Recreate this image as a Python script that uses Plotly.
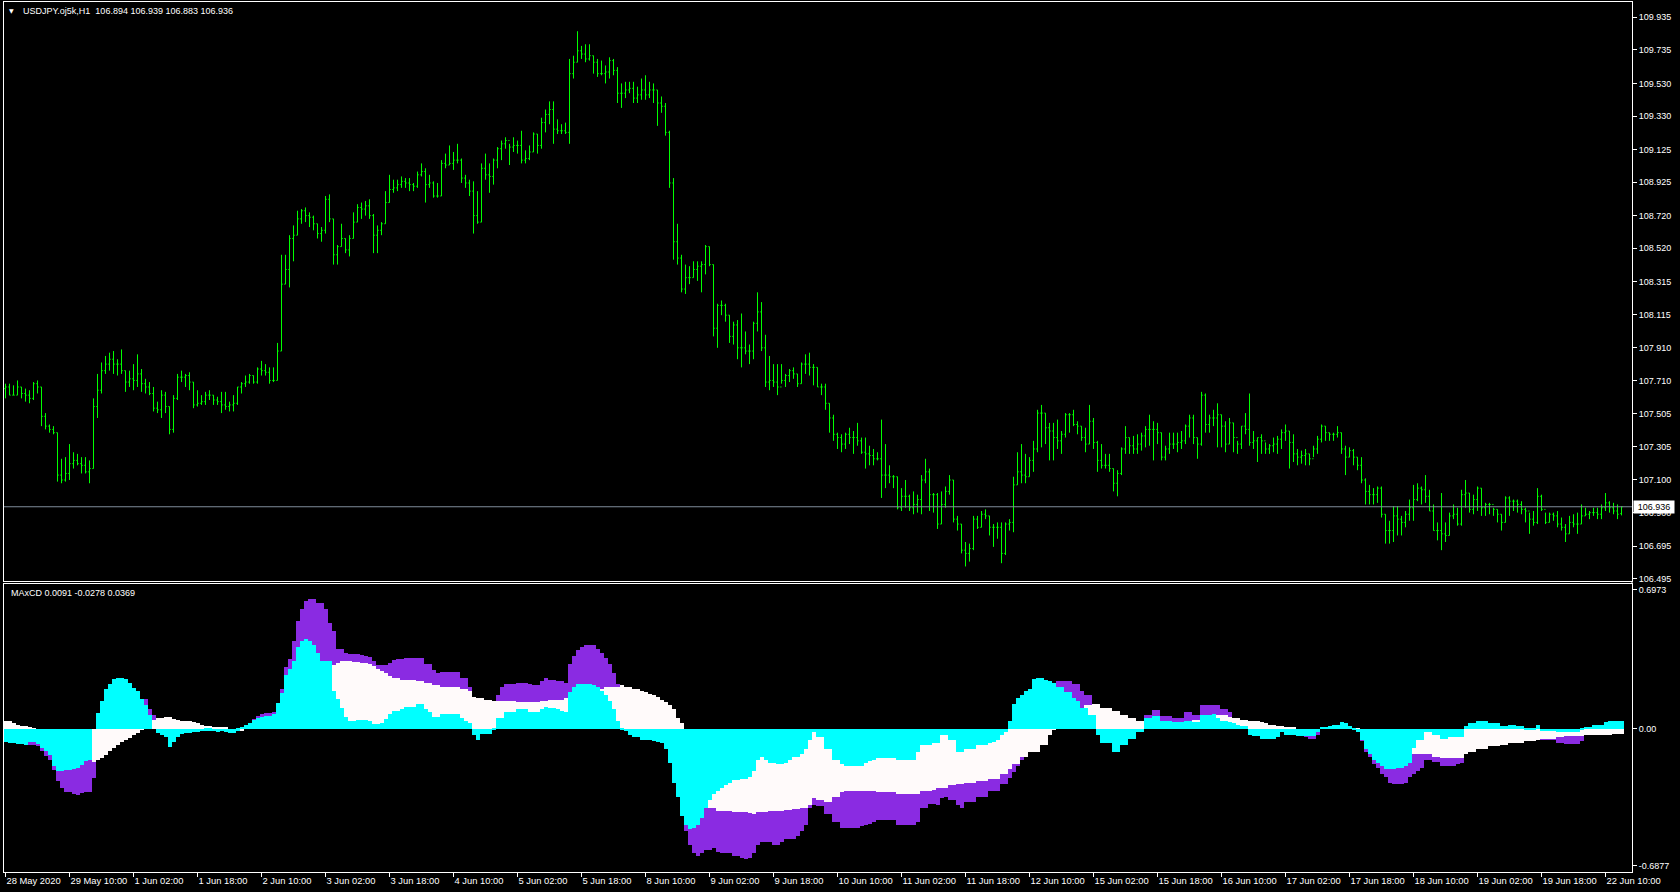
import plotly.graph_objects as go

# ---------------- price data (USDJPY H1, one value per bar) ----------------
OPEN_FIRST = 107.66
LAST_OPEN = 106.894

HIGH = [
    107.69, 107.69, 107.68, 107.71, 107.67, 107.66, 107.65, 107.70, 107.71, 107.67,
    107.51, 107.44, 107.43, 107.39, 107.23, 107.24, 107.32, 107.27, 107.26, 107.24,
    107.24, 107.22, 107.60, 107.75, 107.82, 107.86, 107.88, 107.89, 107.84, 107.90,
    107.77, 107.77, 107.81, 107.87, 107.78, 107.72, 107.70, 107.67, 107.58, 107.65,
    107.64, 107.55, 107.62, 107.75, 107.77, 107.75, 107.76, 107.70, 107.65, 107.62,
    107.64, 107.65, 107.62, 107.61, 107.64, 107.64, 107.58, 107.62, 107.67, 107.70,
    107.74, 107.75, 107.74, 107.79, 107.83, 107.81, 107.79, 107.79, 107.94, 108.48,
    108.48, 108.60, 108.66, 108.75, 108.76, 108.77, 108.74, 108.72, 108.67, 108.65,
    108.84, 108.85, 108.70, 108.54, 108.67, 108.58, 108.60, 108.74, 108.79, 108.80,
    108.81, 108.82, 108.73, 108.66, 108.68, 108.87, 108.97, 108.94, 108.94, 108.96,
    108.95, 108.95, 108.92, 108.99, 109.04, 109.01, 108.97, 108.93, 108.92, 109.06,
    109.10, 109.15, 109.11, 109.16, 109.07, 108.97, 108.94, 108.93, 108.87, 109.04,
    109.10, 109.04, 109.07, 109.14, 109.18, 109.20, 109.16, 109.20, 109.18, 109.24,
    109.12, 109.15, 109.23, 109.22, 109.32, 109.37, 109.42, 109.42, 109.31, 109.28,
    109.29, 109.68, 109.70, 109.85, 109.76, 109.77, 109.77, 109.70, 109.68, 109.67,
    109.64, 109.69, 109.68, 109.63, 109.53, 109.54, 109.54, 109.54, 109.51, 109.56,
    109.58, 109.54, 109.53, 109.49, 109.45, 109.41, 109.24, 108.95, 108.67, 108.48,
    108.42, 108.41, 108.44, 108.44, 108.44, 108.54, 108.53, 108.42, 108.18, 108.20,
    108.18, 108.11, 108.07, 108.08, 108.12, 108.01, 107.93, 108.07, 108.25, 108.19,
    107.99, 107.86, 107.81, 107.81, 107.81, 107.75, 107.78, 107.79, 107.75, 107.82,
    107.87, 107.88, 107.81, 107.79, 107.69, 107.69, 107.57, 107.50, 107.39, 107.38,
    107.39, 107.42, 107.40, 107.45, 107.36, 107.36, 107.31, 107.29, 107.27, 107.47,
    107.32, 107.19, 107.13, 107.12, 107.05, 107.10, 107.01, 107.03, 107.01, 107.13,
    107.23, 107.17, 107.02, 107.02, 107.03, 107.06, 107.13, 107.10, 106.88, 106.83,
    106.72, 106.71, 106.88, 106.88, 106.91, 106.92, 106.88, 106.83, 106.84, 106.84,
    106.84, 106.86, 107.12, 107.27, 107.32, 107.26, 107.24, 107.34, 107.53, 107.56,
    107.51, 107.45, 107.45, 107.47, 107.40, 107.51, 107.51, 107.53, 107.46, 107.43,
    107.42, 107.56, 107.48, 107.34, 107.32, 107.26, 107.26, 107.17, 107.16, 107.30,
    107.43, 107.36, 107.37, 107.38, 107.39, 107.43, 107.50, 107.46, 107.45, 107.39,
    107.31, 107.39, 107.39, 107.39, 107.40, 107.44, 107.50, 107.50, 107.36, 107.64,
    107.63, 107.50, 107.53, 107.57, 107.50, 107.46, 107.48, 107.45, 107.34, 107.43,
    107.51, 107.63, 107.40, 107.36, 107.38, 107.33, 107.32, 107.36, 107.37, 107.41,
    107.44, 107.40, 107.38, 107.29, 107.28, 107.29, 107.26, 107.31, 107.37, 107.44,
    107.43, 107.39, 107.39, 107.43, 107.39, 107.31, 107.30, 107.29, 107.24, 107.24,
    107.11, 107.07, 107.05, 107.06, 107.06, 106.89, 106.85, 106.94, 106.94, 106.88,
    106.91, 106.98, 107.07, 107.08, 107.06, 107.13, 107.04, 106.95, 106.84, 107.02,
    106.84, 106.90, 106.95, 106.93, 107.04, 107.10, 107.02, 107.01, 107.06, 107.05,
    106.96, 106.96, 106.93, 106.92, 106.89, 107.00, 107.00, 106.98, 106.98, 106.97,
    106.93, 106.90, 106.91, 107.05, 107.01, 106.90, 106.90, 106.90, 106.91, 106.87,
    106.83, 106.88, 106.89, 106.90, 106.95, 106.93, 106.91, 106.93, 106.93, 106.95,
    107.02, 106.97, 106.96, 106.95, 106.939,
]

LOW = [
    107.60, 107.62, 107.62, 107.62, 107.60, 107.58, 107.57, 107.59, 107.63, 107.43,
    107.41, 107.39, 107.38, 107.09, 107.08, 107.09, 107.10, 107.17, 107.19, 107.14,
    107.14, 107.08, 107.17, 107.48, 107.63, 107.75, 107.77, 107.75, 107.74, 107.75,
    107.64, 107.67, 107.65, 107.67, 107.64, 107.63, 107.62, 107.52, 107.51, 107.48,
    107.51, 107.38, 107.39, 107.59, 107.70, 107.67, 107.65, 107.54, 107.55, 107.56,
    107.56, 107.59, 107.56, 107.56, 107.51, 107.53, 107.52, 107.52, 107.56, 107.63,
    107.67, 107.69, 107.69, 107.69, 107.74, 107.74, 107.69, 107.70, 107.71, 107.89,
    108.30, 108.28, 108.44, 108.60, 108.67, 108.68, 108.65, 108.63, 108.58, 108.56,
    108.61, 108.68, 108.42, 108.42, 108.53, 108.49, 108.47, 108.58, 108.68, 108.70,
    108.72, 108.70, 108.49, 108.49, 108.60, 108.67, 108.80, 108.86, 108.87, 108.89,
    108.89, 108.87, 108.87, 108.89, 108.96, 108.80, 108.89, 108.83, 108.83, 108.84,
    109.01, 109.03, 109.00, 109.04, 108.92, 108.89, 108.84, 108.61, 108.67, 108.68,
    108.94, 108.86, 108.91, 109.01, 109.06, 109.13, 109.03, 109.11, 109.10, 109.04,
    109.04, 109.06, 109.11, 109.10, 109.13, 109.23, 109.28, 109.16, 109.22, 109.22,
    109.22, 109.16, 109.56, 109.66, 109.68, 109.66, 109.67, 109.59, 109.57, 109.58,
    109.53, 109.56, 109.58, 109.41, 109.38, 109.44, 109.47, 109.41, 109.41, 109.43,
    109.43, 109.44, 109.41, 109.27, 109.35, 109.21, 108.89, 108.45, 108.42, 108.25,
    108.24, 108.30, 108.34, 108.32, 108.25, 108.36, 108.41, 107.98, 107.91, 108.11,
    108.07, 107.94, 107.93, 107.84, 107.79, 107.87, 107.81, 107.84, 108.01, 107.89,
    107.67, 107.65, 107.67, 107.62, 107.69, 107.67, 107.70, 107.72, 107.67, 107.69,
    107.75, 107.74, 107.68, 107.67, 107.62, 107.53, 107.39, 107.34, 107.29, 107.27,
    107.29, 107.32, 107.26, 107.31, 107.26, 107.17, 107.19, 107.19, 107.22, 106.99,
    107.05, 107.08, 107.05, 106.92, 106.91, 106.93, 106.91, 106.89, 106.90, 106.89,
    107.08, 106.91, 106.90, 106.80, 106.83, 106.93, 107.01, 106.84, 106.79, 106.65,
    106.57, 106.60, 106.67, 106.80, 106.81, 106.86, 106.76, 106.69, 106.74, 106.59,
    106.64, 106.79, 106.78, 107.07, 107.08, 107.08, 107.12, 107.15, 107.27, 107.30,
    107.32, 107.22, 107.22, 107.29, 107.26, 107.36, 107.39, 107.43, 107.38, 107.34,
    107.27, 107.32, 107.29, 107.15, 107.17, 107.17, 107.15, 107.03, 107.00, 107.13,
    107.26, 107.26, 107.26, 107.26, 107.28, 107.30, 107.31, 107.22, 107.32, 107.22,
    107.22, 107.26, 107.29, 107.27, 107.29, 107.32, 107.36, 107.32, 107.23, 107.31,
    107.39, 107.39, 107.43, 107.30, 107.30, 107.27, 107.32, 107.27, 107.26, 107.29,
    107.38, 107.31, 107.29, 107.21, 107.26, 107.26, 107.26, 107.27, 107.26, 107.29,
    107.34, 107.17, 107.21, 107.19, 107.20, 107.19, 107.19, 107.24, 107.26, 107.33,
    107.34, 107.34, 107.34, 107.36, 107.26, 107.13, 107.24, 107.19, 107.16, 107.08,
    106.95, 106.95, 106.95, 106.96, 106.87, 106.71, 106.71, 106.72, 106.76, 106.76,
    106.81, 106.85, 106.85, 106.97, 106.95, 106.96, 106.91, 106.79, 106.73, 106.67,
    106.72, 106.76, 106.86, 106.82, 106.82, 106.93, 106.90, 106.89, 106.91, 106.88,
    106.88, 106.89, 106.88, 106.84, 106.79, 106.84, 106.88, 106.91, 106.90, 106.89,
    106.84, 106.77, 106.82, 106.83, 106.91, 106.83, 106.84, 106.85, 106.81, 106.79,
    106.72, 106.77, 106.81, 106.77, 106.83, 106.88, 106.86, 106.88, 106.86, 106.86,
    106.91, 106.90, 106.89, 106.86, 106.883,
]

CLOSE = [
    107.67, 107.62, 107.62, 107.67, 107.63, 107.62, 107.60, 107.69, 107.67, 107.49,
    107.43, 107.41, 107.39, 107.13, 107.10, 107.14, 107.20, 107.22, 107.20, 107.19,
    107.15, 107.17, 107.55, 107.65, 107.77, 107.81, 107.84, 107.81, 107.81, 107.77,
    107.70, 107.72, 107.71, 107.75, 107.69, 107.67, 107.63, 107.54, 107.53, 107.62,
    107.55, 107.41, 107.60, 107.73, 107.73, 107.74, 107.70, 107.56, 107.57, 107.58,
    107.62, 107.62, 107.59, 107.58, 107.56, 107.55, 107.56, 107.57, 107.67, 107.69,
    107.70, 107.74, 107.70, 107.78, 107.77, 107.76, 107.71, 107.71, 107.89, 108.30,
    108.39, 108.58, 108.60, 108.70, 108.75, 108.72, 108.71, 108.67, 108.61, 108.63,
    108.82, 108.70, 108.48, 108.53, 108.58, 108.51, 108.58, 108.68, 108.77, 108.76,
    108.78, 108.72, 108.60, 108.63, 108.67, 108.80, 108.88, 108.89, 108.91, 108.93,
    108.92, 108.91, 108.90, 108.97, 108.99, 108.91, 108.92, 108.84, 108.84, 109.04,
    109.03, 109.04, 109.06, 109.06, 108.95, 108.92, 108.87, 108.72, 108.68, 109.01,
    108.97, 108.96, 109.06, 109.13, 109.16, 109.18, 109.14, 109.15, 109.15, 109.06,
    109.07, 109.11, 109.22, 109.15, 109.29, 109.34, 109.37, 109.25, 109.24, 109.24,
    109.23, 109.59, 109.66, 109.73, 109.71, 109.68, 109.70, 109.66, 109.59, 109.59,
    109.60, 109.67, 109.61, 109.47, 109.47, 109.49, 109.50, 109.44, 109.46, 109.49,
    109.46, 109.49, 109.49, 109.41, 109.39, 109.23, 108.92, 108.56, 108.46, 108.27,
    108.34, 108.34, 108.39, 108.41, 108.42, 108.53, 108.42, 108.03, 108.17, 108.17,
    108.11, 107.98, 108.05, 107.91, 107.91, 107.89, 107.89, 108.06, 108.13, 107.91,
    107.70, 107.71, 107.70, 107.67, 107.71, 107.74, 107.77, 107.75, 107.69, 107.81,
    107.81, 107.79, 107.79, 107.67, 107.67, 107.57, 107.48, 107.38, 107.36, 107.32,
    107.38, 107.36, 107.36, 107.34, 107.27, 107.26, 107.25, 107.23, 107.23, 107.13,
    107.13, 107.12, 107.12, 106.93, 107.00, 107.00, 106.93, 106.95, 106.98, 107.10,
    107.15, 107.01, 107.01, 106.83, 106.95, 107.03, 107.10, 106.86, 106.83, 106.67,
    106.65, 106.68, 106.86, 106.81, 106.89, 106.88, 106.81, 106.81, 106.81, 106.65,
    106.83, 106.84, 107.07, 107.15, 107.13, 107.12, 107.22, 107.29, 107.51, 107.51,
    107.42, 107.40, 107.36, 107.34, 107.38, 107.50, 107.50, 107.44, 107.43, 107.36,
    107.32, 107.46, 107.33, 107.22, 107.19, 107.19, 107.17, 107.08, 107.14, 107.29,
    107.36, 107.31, 107.29, 107.32, 107.37, 107.41, 107.41, 107.41, 107.39, 107.24,
    107.29, 107.32, 107.32, 107.33, 107.34, 107.43, 107.48, 107.36, 107.32, 107.62,
    107.44, 107.48, 107.48, 107.50, 107.43, 107.32, 107.45, 107.36, 107.32, 107.43,
    107.41, 107.33, 107.34, 107.36, 107.34, 107.29, 107.31, 107.32, 107.35, 107.39,
    107.40, 107.33, 107.26, 107.24, 107.25, 107.26, 107.23, 107.29, 107.35, 107.43,
    107.39, 107.38, 107.38, 107.39, 107.29, 107.24, 107.28, 107.24, 107.19, 107.10,
    107.03, 107.01, 107.01, 107.05, 106.89, 106.79, 106.79, 106.88, 106.86, 106.84,
    106.89, 106.93, 106.98, 107.05, 107.04, 107.00, 106.91, 106.79, 106.79, 106.77,
    106.76, 106.88, 106.89, 106.83, 107.01, 107.02, 106.92, 106.98, 107.05, 106.93,
    106.95, 106.95, 106.92, 106.89, 106.84, 106.99, 106.97, 106.97, 106.95, 106.92,
    106.91, 106.86, 106.84, 107.00, 106.92, 106.84, 106.89, 106.88, 106.83, 106.81,
    106.77, 106.84, 106.83, 106.83, 106.88, 106.89, 106.90, 106.90, 106.89, 106.93,
    106.96, 106.93, 106.91, 106.89, 106.936,
]

# ---------------- MAxCD indicator (three histogram buffers) ----------------
PURPLE = [
    -0.030, -0.035, -0.043, -0.056, -0.061, -0.069, -0.081, -0.081, -0.089, -0.115,
    -0.136, -0.160, -0.207, -0.266, -0.300, -0.317, -0.320, -0.328, -0.333, -0.325,
    -0.320, -0.320, -0.250, 0.000, 0.000, 0.050, 0.100, 0.150, 0.170, 0.180,
    0.190, 0.180, 0.170, 0.170, 0.150, 0.150, 0.100, 0.067, 0.032, 0.019,
    0.012, -0.040, -0.020, 0.000, 0.010, 0.015, 0.015, 0.014, 0.009, 0.005,
    0.005, 0.002, -0.008, -0.013, -0.008, -0.017, -0.025, -0.025, -0.010, 0.000,
    0.020, 0.030, 0.050, 0.065, 0.072, 0.080, 0.080, 0.085, 0.120, 0.200,
    0.310, 0.350, 0.440, 0.540, 0.600, 0.640, 0.650, 0.650, 0.630, 0.630,
    0.600, 0.530, 0.490, 0.400, 0.400, 0.380, 0.375, 0.375, 0.375, 0.370,
    0.365, 0.360, 0.340, 0.320, 0.320, 0.320, 0.330, 0.345, 0.350, 0.350,
    0.352, 0.352, 0.352, 0.352, 0.352, 0.323, 0.323, 0.295, 0.281, 0.286,
    0.286, 0.286, 0.286, 0.286, 0.252, 0.252, 0.210, 0.120, 0.100, 0.120,
    0.120, 0.120, 0.140, 0.167, 0.210, 0.224, 0.224, 0.224, 0.230, 0.230,
    0.230, 0.224, 0.218, 0.218, 0.238, 0.252, 0.244, 0.244, 0.238, 0.238,
    0.230, 0.323, 0.366, 0.394, 0.408, 0.422, 0.422, 0.422, 0.400, 0.380,
    0.352, 0.323, 0.281, 0.224, 0.210, 0.200, 0.190, 0.170, 0.160, 0.140,
    0.130, 0.120, 0.100, 0.090, 0.070, 0.030, -0.060, -0.170, -0.290, -0.430,
    -0.513, -0.584, -0.627, -0.641, -0.627, -0.612, -0.612, -0.600, -0.620, -0.627,
    -0.627, -0.627, -0.641, -0.641, -0.649, -0.655, -0.649, -0.627, -0.584, -0.570,
    -0.570, -0.570, -0.584, -0.584, -0.570, -0.556, -0.556, -0.556, -0.541, -0.513,
    -0.485, -0.400, -0.386, -0.390, -0.390, -0.428, -0.428, -0.471, -0.471, -0.499,
    -0.499, -0.499, -0.499, -0.499, -0.490, -0.485, -0.480, -0.471, -0.462, -0.462,
    -0.462, -0.462, -0.462, -0.485, -0.485, -0.485, -0.485, -0.485, -0.471, -0.400,
    -0.400, -0.380, -0.380, -0.386, -0.350, -0.343, -0.357, -0.357, -0.386, -0.400,
    -0.371, -0.371, -0.371, -0.343, -0.343, -0.343, -0.315, -0.315, -0.315, -0.280,
    -0.280, -0.250, -0.220, -0.190, -0.160, -0.140, -0.120, -0.090, -0.080, -0.060,
    -0.030, 0.000, 0.218, 0.238, 0.238, 0.238, 0.238, 0.224, 0.224, 0.190,
    0.167, 0.167, 0.100, 0.050, 0.030, 0.020, 0.000, -0.010, -0.020, -0.020,
    -0.010, 0.000, 0.000, 0.000, 0.000, 0.068, 0.068, 0.094, 0.094, 0.062,
    0.062, 0.062, 0.054, 0.054, 0.054, 0.082, 0.082, 0.068, 0.068, 0.119,
    0.119, 0.119, 0.116, 0.116, 0.096, 0.096, 0.082, 0.040, 0.030, 0.020,
    0.010, 0.000, 0.000, -0.010, -0.020, -0.020, -0.020, -0.030, -0.030, -0.010,
    -0.020, -0.020, -0.030, -0.040, -0.040, -0.045, -0.054, -0.054, -0.031, 0.006,
    0.006, 0.011, 0.017, 0.020, 0.034, 0.026, 0.011, 0.000, -0.011, -0.065,
    -0.116, -0.145, -0.179, -0.200, -0.230, -0.244, -0.272, -0.281, -0.281, -0.281,
    -0.272, -0.244, -0.230, -0.215, -0.200, -0.159, -0.159, -0.167, -0.167, -0.187,
    -0.187, -0.187, -0.187, -0.179, -0.173, -0.130, -0.116, -0.100, -0.090, -0.090,
    -0.090, -0.080, -0.080, -0.080, -0.070, -0.070, -0.070, -0.070, -0.070, -0.065,
    -0.065, -0.065, -0.065, -0.050, -0.060, -0.060, -0.060, -0.060, -0.074, -0.074,
    -0.079, -0.079, -0.079, -0.079, -0.065, -0.020, -0.020, -0.010, -0.010, 0.000,
    0.000, 0.010, 0.010, 0.010, 0.0091,
]

WHITE = [
    0.037, 0.037, 0.029, 0.020, 0.015, 0.012, 0.003, -0.010, -0.013, -0.017,
    -0.021, -0.029, -0.017, -0.050, -0.084, -0.110, -0.113, -0.125, -0.134, -0.143,
    -0.155, -0.160, -0.168, -0.157, -0.148, -0.131, -0.115, -0.098, -0.081, -0.069,
    -0.059, -0.047, -0.035, -0.022, -0.005, 0.000, 0.000, 0.045, 0.054, 0.054,
    0.057, 0.057, 0.049, 0.042, 0.040, 0.040, 0.037, 0.034, 0.029, 0.020,
    0.015, 0.012, 0.007, 0.005, 0.003, 0.003, 0.000, 0.000, -0.005, -0.010,
    0.000, 0.000, 0.005, 0.010, 0.012, 0.015, 0.015, 0.010, 0.000, 0.020,
    0.040, 0.050, 0.100, 0.130, 0.160, 0.190, 0.210, 0.230, 0.250, 0.270,
    0.280, 0.300, 0.320, 0.330, 0.340, 0.340, 0.340, 0.335, 0.335, 0.330,
    0.330, 0.325, 0.315, 0.300, 0.290, 0.280, 0.265, 0.255, 0.255, 0.245,
    0.244, 0.244, 0.244, 0.238, 0.238, 0.230, 0.230, 0.218, 0.218, 0.210,
    0.210, 0.210, 0.210, 0.210, 0.201, 0.201, 0.190, 0.159, 0.153, 0.153,
    0.145, 0.145, 0.139, 0.139, 0.139, 0.139, 0.139, 0.139, 0.133, 0.133,
    0.133, 0.133, 0.133, 0.133, 0.139, 0.139, 0.145, 0.145, 0.145, 0.145,
    0.153, 0.153, 0.167, 0.167, 0.200, 0.200, 0.200, 0.200, 0.200, 0.200,
    0.210, 0.210, 0.210, 0.210, 0.218, 0.210, 0.210, 0.201, 0.201, 0.190,
    0.185, 0.173, 0.167, 0.159, 0.145, 0.133, 0.116, 0.096, 0.054, 0.026,
    -0.020, -0.060, -0.120, -0.170, -0.350, -0.380, -0.400, -0.400, -0.414, -0.414,
    -0.414, -0.414, -0.420, -0.422, -0.422, -0.422, -0.425, -0.428, -0.422, -0.422,
    -0.422, -0.414, -0.414, -0.414, -0.414, -0.408, -0.408, -0.405, -0.405, -0.400,
    -0.400, -0.386, -0.350, -0.357, -0.357, -0.371, -0.371, -0.343, -0.343, -0.320,
    -0.315, -0.315, -0.315, -0.315, -0.315, -0.315, -0.315, -0.315, -0.320, -0.320,
    -0.320, -0.320, -0.320, -0.329, -0.329, -0.329, -0.329, -0.329, -0.329, -0.315,
    -0.315, -0.315, -0.310, -0.301, -0.301, -0.301, -0.286, -0.286, -0.280, -0.280,
    -0.272, -0.272, -0.272, -0.264, -0.264, -0.264, -0.252, -0.252, -0.252, -0.230,
    -0.230, -0.201, -0.178, -0.178, -0.145, -0.145, -0.116, -0.116, -0.116, -0.082,
    -0.082, -0.031, -0.003, 0.010, 0.020, 0.030, 0.040, 0.104, 0.104, 0.105,
    0.116, 0.116, 0.125, 0.125, 0.105, 0.105, 0.105, 0.088, 0.088, 0.068,
    0.068, 0.054, 0.054, 0.040, 0.040, 0.030, 0.030, 0.030, 0.030, 0.025,
    0.025, 0.025, 0.026, 0.026, 0.026, 0.030, 0.030, 0.045, 0.045, 0.045,
    0.045, 0.054, 0.060, 0.068, 0.068, 0.068, 0.060, 0.054, 0.054, 0.045,
    0.045, 0.040, 0.040, 0.040, 0.034, 0.026, 0.020, 0.017, 0.011, 0.011,
    0.006, 0.006, 0.006, 0.000, 0.000, 0.000, 0.000, 0.000, 0.000, 0.003,
    0.003, 0.003, 0.003, 0.003, 0.003, 0.003, 0.006, -0.003, -0.009, -0.020,
    -0.030, -0.040, -0.050, -0.060, -0.070, -0.080, -0.090, -0.100, -0.110, -0.120,
    -0.125, -0.130, -0.130, -0.130, -0.130, -0.130, -0.130, -0.145, -0.145, -0.150,
    -0.150, -0.150, -0.150, -0.150, -0.150, -0.130, -0.116, -0.116, -0.102, -0.102,
    -0.102, -0.088, -0.088, -0.088, -0.082, -0.082, -0.074, -0.074, -0.074, -0.074,
    -0.065, -0.065, -0.065, -0.060, -0.054, -0.054, -0.051, -0.051, -0.045, -0.045,
    -0.037, -0.037, -0.037, -0.037, -0.037, -0.031, -0.031, -0.031, -0.031, -0.031,
    -0.031, -0.031, -0.030, -0.029, -0.0278,
]

CYAN = [
    -0.067, -0.072, -0.072, -0.076, -0.076, -0.081, -0.067, -0.067, -0.076, -0.098,
    -0.115, -0.131, -0.190, -0.216, -0.216, -0.210, -0.207, -0.203, -0.199, -0.182,
    -0.165, -0.160, 0.000, 0.079, 0.138, 0.197, 0.222, 0.248, 0.256, 0.256,
    0.248, 0.231, 0.205, 0.190, 0.150, 0.120, 0.070, 0.000, -0.022, -0.035,
    -0.045, -0.095, -0.070, -0.045, -0.030, -0.025, -0.022, -0.020, -0.020, -0.015,
    -0.010, -0.010, -0.015, -0.018, -0.012, -0.020, -0.025, -0.025, -0.010, 0.010,
    0.020, 0.030, 0.045, 0.055, 0.060, 0.065, 0.065, 0.075, 0.130, 0.180,
    0.270, 0.300, 0.340, 0.410, 0.440, 0.450, 0.440, 0.420, 0.380, 0.340,
    0.340, 0.340, 0.190, 0.146, 0.104, 0.060, 0.040, 0.040, 0.042, 0.045,
    0.045, 0.037, 0.025, 0.025, 0.030, 0.050, 0.075, 0.088, 0.090, 0.100,
    0.110, 0.110, 0.110, 0.125, 0.125, 0.096, 0.082, 0.060, 0.060, 0.074,
    0.074, 0.074, 0.074, 0.074, 0.054, 0.040, 0.026, -0.031, -0.060, -0.026,
    -0.026, -0.026, -0.003, 0.054, 0.054, 0.082, 0.082, 0.082, 0.096, 0.096,
    0.096, 0.082, 0.082, 0.082, 0.096, 0.110, 0.105, 0.105, 0.096, 0.088,
    0.082, 0.181, 0.210, 0.224, 0.224, 0.224, 0.224, 0.218, 0.210, 0.190,
    0.167, 0.139, 0.096, 0.040, -0.003, -0.011, -0.031, -0.045, -0.045, -0.060,
    -0.060, -0.060, -0.065, -0.070, -0.074, -0.102, -0.173, -0.272, -0.343, -0.442,
    -0.485, -0.507, -0.499, -0.485, -0.450, -0.400, -0.360, -0.330, -0.315, -0.300,
    -0.286, -0.272, -0.258, -0.258, -0.252, -0.252, -0.244, -0.215, -0.159, -0.145,
    -0.159, -0.173, -0.173, -0.179, -0.179, -0.173, -0.159, -0.145, -0.145, -0.130,
    -0.102, -0.060, -0.017, -0.045, -0.045, -0.102, -0.102, -0.159, -0.159, -0.179,
    -0.187, -0.187, -0.187, -0.187, -0.187, -0.173, -0.165, -0.159, -0.150, -0.150,
    -0.150, -0.150, -0.150, -0.159, -0.159, -0.159, -0.159, -0.159, -0.116, -0.082,
    -0.082, -0.082, -0.074, -0.074, -0.031, -0.031, -0.060, -0.060, -0.116, -0.116,
    -0.102, -0.102, -0.102, -0.082, -0.082, -0.082, -0.074, -0.068, -0.060, -0.031,
    -0.017, 0.040, 0.125, 0.153, 0.167, 0.190, 0.200, 0.250, 0.252, 0.252,
    0.244, 0.238, 0.230, 0.210, 0.210, 0.181, 0.181, 0.153, 0.139, 0.105,
    0.105, 0.068, 0.068, -0.031, -0.074, -0.074, -0.074, -0.116, -0.116, -0.082,
    -0.082, -0.054, -0.054, -0.017, -0.017, 0.054, 0.054, 0.062, 0.062, 0.040,
    0.040, 0.040, 0.031, 0.031, 0.031, 0.040, 0.040, 0.031, 0.031, 0.068,
    0.068, 0.068, 0.074, 0.054, 0.040, 0.040, 0.031, 0.026, 0.020, 0.011,
    0.011, -0.031, -0.037, -0.040, -0.054, -0.054, -0.051, -0.051, -0.045, -0.017,
    -0.031, -0.031, -0.031, -0.040, -0.040, -0.037, -0.037, -0.037, -0.017, 0.006,
    0.006, 0.011, 0.017, 0.020, 0.034, 0.026, 0.011, -0.003, -0.017, -0.060,
    -0.102, -0.130, -0.159, -0.173, -0.187, -0.201, -0.201, -0.201, -0.196, -0.196,
    -0.187, -0.173, -0.100, -0.060, -0.060, -0.017, -0.017, -0.031, -0.031, -0.054,
    -0.054, -0.045, -0.045, -0.045, -0.045, 0.011, 0.026, 0.026, 0.040, 0.040,
    0.040, 0.026, 0.026, 0.026, 0.011, 0.011, 0.017, 0.017, 0.011, 0.011,
    -0.009, -0.009, -0.009, 0.020, -0.011, -0.011, -0.011, -0.011, -0.017, -0.017,
    -0.017, -0.017, -0.017, -0.017, -0.009, 0.006, 0.006, 0.017, 0.017, 0.017,
    0.034, 0.040, 0.040, 0.040, 0.0369,
]

# ---------------- axis labels ----------------
TIME_TICK_BARS = [0, 16, 32, 48, 64, 80, 96, 112, 128, 144, 160, 176, 192, 208, 224,
                  240, 256, 272, 288, 304, 320, 336, 352, 368, 384, 400]
TIME_TICK_LABELS = ["28 May 2020", "29 May 10:00", "1 Jun 02:00", "1 Jun 18:00", "2 Jun 10:00",
                    "3 Jun 02:00", "3 Jun 18:00", "4 Jun 10:00", "5 Jun 02:00", "5 Jun 18:00",
                    "8 Jun 10:00", "9 Jun 02:00", "9 Jun 18:00", "10 Jun 10:00", "11 Jun 02:00",
                    "11 Jun 18:00", "12 Jun 10:00", "15 Jun 02:00", "15 Jun 18:00", "16 Jun 10:00",
                    "17 Jun 02:00", "17 Jun 18:00", "18 Jun 10:00", "19 Jun 02:00", "19 Jun 18:00",
                    "22 Jun 10:00"]
PRICE_TICKS = [109.935, 109.735, 109.530, 109.330, 109.125, 108.925, 108.720, 108.520, 108.315,
               108.115, 107.910, 107.710, 107.505, 107.305, 107.100, 106.900, 106.695, 106.495]
IND_TICKS = [0.6973, 0.0, -0.6877]
IND_TICK_LABELS = ["0.6973", "0.00", "-0.6877"]
CURRENT_PRICE = 106.936
HEADER = "USDJPY.oj5k,H1\u00a0\u00a0106.894 106.939 106.883 106.936"
IND_HEADER = "MAxCD 0.0091 -0.0278 0.0369"

N = len(CLOSE)
for arr in (HIGH, LOW, PURPLE, WHITE, CYAN):
    assert len(arr) == N, len(arr)
X = list(range(N))
OPEN = [OPEN_FIRST] + CLOSE[:-1]
OPEN[-1] = LAST_OPEN

# ---------------- layout geometry (pixels) ----------------
W, H = 1680, 892
ML, MR, MT, MB = 4, 48, 2, 20
PH = H - MT - MB            # plot height 870
def py(pix):                # screen y -> paper y
    return (H - MB - pix) / PH
def px(pix):
    return (pix - ML) / (W - ML - MR)

FONT = "Liberation Sans, Arial, sans-serif"
GREEN = "#00FF00"

fig = go.Figure()
fig.add_trace(go.Ohlc(
    x=X, open=OPEN, high=HIGH, low=LOW, close=CLOSE,
    increasing=dict(line=dict(color=GREEN, width=1)),
    decreasing=dict(line=dict(color=GREEN, width=1)),
    tickwidth=0.3, xaxis="x", yaxis="y", hoverinfo="skip"))
for vals, col in ((PURPLE, "#8A2BE2"), (WHITE, "#FFFAFA"), (CYAN, "#00FFFF")):
    fig.add_trace(go.Bar(x=X, y=vals, width=1.0, marker=dict(color=col, line=dict(width=0)),
                         opacity=1, xaxis="x2", yaxis="y2", hoverinfo="skip"))

XR = [-0.375, N + 1.625]
axis_common = dict(showgrid=False, zeroline=False, showline=True, linecolor="white",
                   linewidth=1, mirror=True, automargin=False)
fig.update_layout(
    width=W, height=H, margin=dict(l=ML, r=MR, t=MT, b=MB, autoexpand=False),
    paper_bgcolor="black", plot_bgcolor="black", showlegend=False,
    barmode="overlay", bargap=0,
    font=dict(family=FONT, color="white", size=9),
    xaxis=dict(domain=[0, 1], anchor="y", range=XR, showticklabels=False, ticks="",
               rangeslider=dict(visible=False), **axis_common),
    xaxis2=dict(domain=[0, 1], anchor="y2", range=XR, tickmode="array",
                tickvals=TIME_TICK_BARS, ticktext=TIME_TICK_LABELS, ticks="outside",
                ticklen=4, tickcolor="white", ticklabelposition="outside right", tickangle=0,
                tickfont=dict(size=9.4, color="white", family=FONT), **axis_common),
    yaxis=dict(domain=[py(581), 1], anchor="x", side="right", range=[106.481, 110.029],
               tickmode="array", tickvals=PRICE_TICKS, ticktext=[f"{v:.3f}" for v in PRICE_TICKS],
               ticks="outside", ticklen=4, tickcolor="white", tickangle=0,
               tickfont=dict(size=9, color="white", family=FONT), **axis_common),
    yaxis2=dict(domain=[0, py(584)], anchor="x2", side="right", range=[-0.7211, 0.7262],
                tickmode="array", tickvals=IND_TICKS, ticktext=IND_TICK_LABELS,
                ticks="outside", ticklen=4, tickcolor="white", tickangle=0,
                tickfont=dict(size=9, color="white", family=FONT), **axis_common),
)

fig.add_shape(type="line", xref="paper", x0=0, x1=1, yref="y", y0=CURRENT_PRICE, y1=CURRENT_PRICE,
              line=dict(color="#7f8c9a", width=1), layer="above")
fig.add_shape(type="line", xref="paper", x0=1, x1=1, yref="paper", y0=py(584), y1=py(581),
              line=dict(color="white", width=1))

fig.add_annotation(text=HEADER, xref="paper", yref="paper", x=px(21), y=py(11),
                   xanchor="left", yanchor="middle", showarrow=False,
                   font=dict(family=FONT, size=9, color="white"))
fig.add_annotation(text="\u25BC", xref="paper", yref="paper", x=px(11), y=py(10),
                   xanchor="center", yanchor="middle", showarrow=False,
                   font=dict(family="DejaVu Sans", size=6, color="white"))
fig.add_annotation(text=IND_HEADER, xref="paper", yref="paper", x=px(9), y=py(593),
                   xanchor="left", yanchor="middle", showarrow=False,
                   font=dict(family=FONT, size=9, color="white"))
fig.add_annotation(text=f"{CURRENT_PRICE:.3f}", xref="paper", yref="y", x=px(1633),
                   y=CURRENT_PRICE, xanchor="left", yanchor="middle", showarrow=False,
                   bgcolor="white", borderpad=1, width=38, align="center",
                   font=dict(family=FONT, size=9, color="black"))

fig.write_html("out.html", config={"displayModeBar": False},
               post_script="document.body.style.margin='0';document.body.style.overflow='hidden';")
